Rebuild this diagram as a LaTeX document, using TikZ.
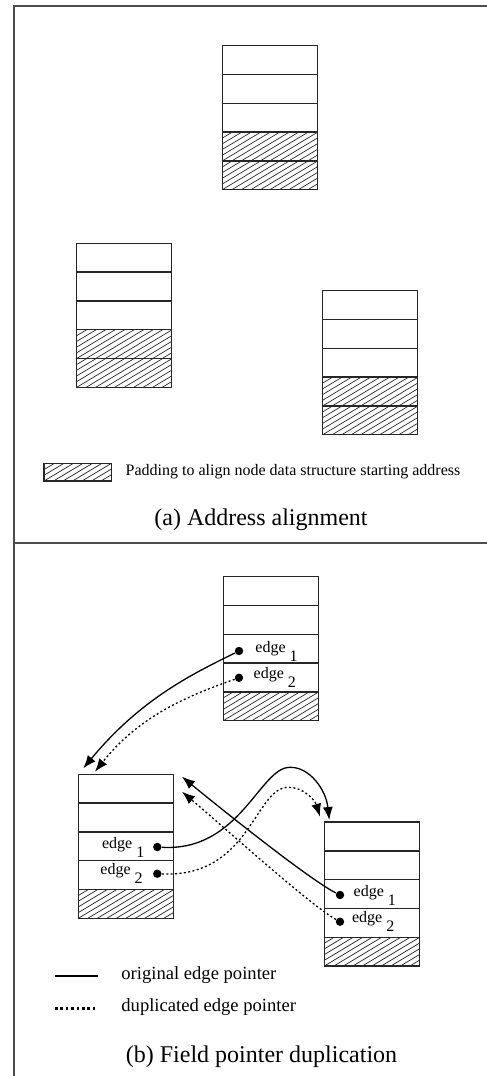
\documentclass[tikz,border=0pt]{standalone}
\usepackage{fontspec}
\setmainfont{Liberation Serif}
\usetikzlibrary{arrows.meta,calc}

% one unit = one pixel of the 487 x 1076 sheet, y grows downwards
\tikzset{
  frame/.style={draw=black!70, line width=0.9pt},
  cell/.style={draw=black!85, line width=0.7pt, minimum width=47.5pt,
    minimum height=14.4pt, inner sep=0pt, outer sep=0pt},
  hatchlines/.style={path picture={
      \foreach \k in {-7,...,11}
        \draw[line width=0.35pt, black!85]
          ($(path picture bounding box.south west)+(\k*9.5,0)$) -- ++(48,-28.8);}},
  pad/.style={cell, hatchlines},
  ptr/.style={circle, fill=black, inner sep=0pt, minimum size=4.2pt},
  lbl/.style={font=\fontsize{8}{9}\selectfont, inner sep=0pt, anchor=base west},
  caption/.style={font=\fontsize{12}{14}\selectfont, inner sep=0pt},
  keytext/.style={font=\fontsize{9.3}{11}\selectfont, inner sep=0pt, anchor=west},
  tip/.style={-{Latex[length=6.5pt,width=5pt]}},
  orig/.style={tip, line width=0.65pt, black},
  dup/.style={tip, line width=0.65pt, black, dash pattern=on 1pt off 1.2pt},
}

% a node data structure: five rows, the rows after the first #4 are padding
\newcommand\memstack[4]{%
  \foreach \r in {1,...,5}{%
    \ifnum\r>#4
      \node[pad, anchor=north west] (#1-\r) at (#2,{#3+(\r-1)*28.8}) {};
    \else
      \node[cell, anchor=north west] (#1-\r) at (#2,{#3+(\r-1)*28.8}) {};
    \fi}}
\newcommand\edgelbl[1]{edge \raisebox{-4.5pt}{#1}}

\begin{document}
\begin{tikzpicture}[x=0.5pt, y=-0.5pt]
\useasboundingbox (0,0) rectangle (487,1076);

% outer frame and the separator between the two panels
\draw[frame] (14,1076) -- (14,6) -- (487,6);
\draw[frame] (14,542.7) -- (487,542.7);

% ---------- (a) address alignment ----------
\memstack{TA}{222.3}{45.7}{3}
\memstack{LA}{76.7}{243.3}{3}
\memstack{RA}{322.7}{290.7}{3}

\node[pad, minimum width=33.85pt, minimum height=8.85pt, anchor=north west]
  (padkey) at (44,463.3) {};
\node[font=\fontsize{8}{9}\selectfont, inner sep=0pt, anchor=west]
  (padtext) at (125.3,471.7) {Padding to align node data structure starting address};
\node[caption] (capa) at (261,520) {(a) Address alignment};

% ---------- (b) field pointer duplication ----------
\memstack{TB}{223.3}{576.7}{4}
\memstack{LB}{78.3}{774.3}{4}
\memstack{RB}{324.3}{822}{4}

% edge pointer fields
\node[ptr] (te1) at ($(TB-3.west)+(15.7,2.3)$) {};
\node[ptr] (te2) at ($(TB-4.west)+(15.7,0.3)$) {};
\node[lbl] (tl1) at (255,652) {\edgelbl{1}};
\node[lbl] (tl2) at (253.3,678.7) {\edgelbl{2}};

\node[ptr] (le1) at ($(LB-3.west)+(79,0.7)$) {};
\node[ptr] (le2) at ($(LB-4.west)+(79,-1.4)$) {};
\node[lbl] (ll1) at (101.7,848) {\edgelbl{1}};
\node[lbl] (ll2) at (100,874.7) {\edgelbl{2}};

\node[ptr] (re1) at ($(RB-3.west)+(15.7,1)$) {};
\node[ptr] (re2) at ($(RB-4.west)+(15.7,-1.1)$) {};
\node[lbl] (rl1) at (353.3,896) {\edgelbl{1}};
\node[lbl] (rl2) at (351.7,922.7) {\edgelbl{2}};

% arrow targets at the corners of the pointed-to structures
\coordinate (tipA) at ($(LB-1.north west)+(5,-6)$);
\coordinate (tipB) at ($(LB-1.north west)+(16.7,-2.6)$);
\coordinate (tipC) at ($(RB-1.north west)+(5,-2)$);
\coordinate (tipD) at ($(RB-1.north west)+(-4.3,-5.3)$);
\coordinate (tipE) at ($(LB-1.north east)+(8.7,2.4)$);
\coordinate (tipF) at ($(LB-1.north east)+(8.7,17.4)$);

% pointers
\draw[orig] (te1) .. controls (190,675) and (140,700) .. (tipA);
\draw[dup]  (te2) .. controls (190,695) and (140,715) .. (tipB);
\draw[orig] (le1) .. controls (240,852) and (260,767) .. (290,767.3)
                  .. controls (310,767) and (326,790) .. (tipC);
\draw[dup]  (le2) .. controls (250,878) and (255,787) .. (288.3,787.3)
                  .. controls (303,787) and (315,800) .. (tipD);
\draw[orig] (re1) .. controls (310,880) and (220,808) .. (tipE);
\draw[dup]  (re2) .. controls (310,905) and (225,828) .. (tipF);

% legend
\draw[line width=1.3pt] (55,976) -- (98.3,976);
\draw[line width=1.3pt, dash pattern=on 1.3pt off 1.4pt] (55,1008.3) -- (96,1008.3);
\node[keytext] (k1) at (121,975) {original edge pointer};
\node[keytext] (k2) at (121,1007) {duplicated edge pointer};
\node[caption] (capb) at (261.5,1056.7) {(b) Field pointer duplication};
\end{tikzpicture}
\end{document}
